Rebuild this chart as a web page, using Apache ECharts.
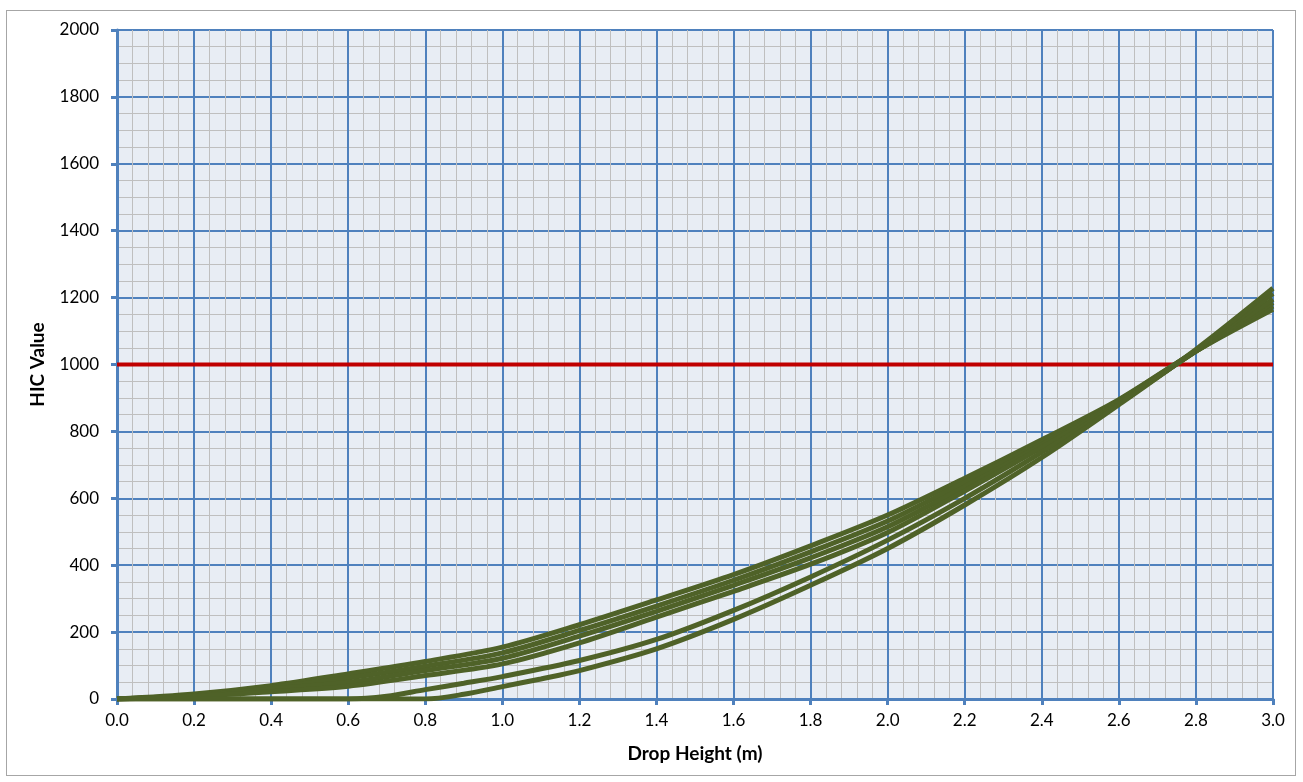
<!DOCTYPE html>
<html>
<head>
<meta charset="utf-8">
<script src="https://cdn.jsdelivr.net/npm/echarts@6/dist/echarts.min.js"></script>
<style>
	html, body { margin: 0; padding: 0; background: #ffffff; }
	#frame { position: absolute; left: 6px; top: 10px; width: 1290px; height: 766px; border: 1px solid #a6a6a6; box-sizing: border-box; }
	#chart { position: absolute; left: 0; top: 0; width: 1303px; height: 782px; }
</style>
</head>
<body>
<div id="frame"></div>
<div id="chart"></div>
<script>
// drop heights (m) for the curves that start at the origin
var heights = [0, 0.2, 0.4, 0.6, 0.8, 1.0, 1.2, 1.4, 1.6, 1.8, 2.0, 2.2, 2.4, 2.6, 2.8, 3.0];
// HIC values, one list per curve
var hicA = [0, 15, 40, 75, 112, 155, 222, 296, 372, 458, 550, 660, 775, 895, 1040, 1165];
var hicB = [0, 12, 35, 63, 98, 138, 205, 278, 355, 440, 532, 648, 768, 893, 1040, 1175];
var hicC = [0, 10, 30, 50, 85, 122, 188, 262, 340, 422, 515, 635, 760, 890, 1040, 1185];
var hicD = [0, 8, 22, 38, 70, 105, 168, 245, 322, 403, 498, 622, 752, 888, 1040, 1195];
// the two late starting curves
var heightsE = [0, 0.6, 0.7, 0.8, 0.9, 1.0, 1.2, 1.4, 1.6, 1.8, 2.0, 2.2, 2.4, 2.6, 2.8, 3.0];
var hicE = [0, 0, 8, 28, 47, 67, 115, 178, 265, 365, 475, 600, 738, 885, 1042, 1212];
var heightsF = [0, 0.8, 0.9, 1.0, 1.1, 1.2, 1.4, 1.6, 1.8, 2.0, 2.2, 2.4, 2.6, 2.8, 3.0];
var hicF = [0, 0, 14, 37, 60, 85, 150, 238, 340, 450, 580, 722, 880, 1045, 1228];
var limitX = [0, 3.0];
var limitY = [1000, 1000];

function pairs(xs, ys) {
	var out = [];
	for (var i = 0; i < xs.length; i++) {
		out.push([xs[i], ys[i]]);
	}
	return out;
}

var myChart = echarts.init(document.getElementById("chart"));
var curves = [
	pairs(heights, hicA), pairs(heights, hicB), pairs(heights, hicC), pairs(heights, hicD),
	pairs(heightsE, hicE), pairs(heightsF, hicF)
];
var option = {
	backgroundColor: 'transparent',
	animation: false,
	grid: {
		left: 117,
		right: 30,
		top: 30,
		bottom: 83,
		show: true,
		backgroundColor: '#e8edf4',
		borderWidth: 0
	},
	xAxis: {
		type: 'value',
		min: 0,
		max: 3,
		interval: 0.2,
		name: 'Drop Height (m)',
		nameLocation: 'middle',
		nameGap: 45,
		nameTextStyle: {fontFamily: 'Lato', fontWeight: 'bold', fontSize: 19, color: '#000'},
		axisLine: {lineStyle: {color: '#4f81bd', width: 3}},
		axisTick: {show: true, length: 6, lineStyle: {color: '#4f81bd', width: 3}},
		axisLabel: {
			fontFamily: 'Lato', fontSize: 17, color: '#000', margin: 13,
			formatter: function (v) { return v.toFixed(1); }
		},
		splitLine: {show: true, lineStyle: {color: '#4f81bd', width: 2}},
		minorTick: {show: false, splitNumber: 5},
		minorSplitLine: {show: true, lineStyle: {color: '#bfbfbf', width: 1}}
	},
	yAxis: {
		type: 'value',
		min: 0,
		max: 2000,
		interval: 200,
		name: 'HIC Value',
		nameLocation: 'middle',
		nameGap: 70,
		nameTextStyle: {fontFamily: 'Lato', fontWeight: 'bold', fontSize: 19, color: '#000'},
		axisLine: {show: true, lineStyle: {color: '#4f81bd', width: 3}},
		axisTick: {show: true, length: 6, lineStyle: {color: '#4f81bd', width: 3}},
		axisLabel: {
			fontFamily: 'Lato', fontSize: 17, color: '#000', margin: 18,
			formatter: function (v) { return String(v); }
		},
		splitLine: {show: true, lineStyle: {color: '#4f81bd', width: 2}},
		minorTick: {show: false, splitNumber: 4},
		minorSplitLine: {show: true, lineStyle: {color: '#bfbfbf', width: 1}}
	},
	series: []
};
for (var k = 0; k < curves.length; k++) {
	option.series.push({
		type: 'line',
		smooth: 0.3,
		symbol: 'none',
		data: curves[k],
		lineStyle: {color: '#4f6228', width: 5},
		z: 3
	});
}
option.series.push({
	type: 'line',
	symbol: 'none',
	data: pairs(limitX, limitY),
	lineStyle: {color: '#c00000', width: 4},
	z: 2
});
myChart.setOption(option, true);
</script>
</body>
</html>
